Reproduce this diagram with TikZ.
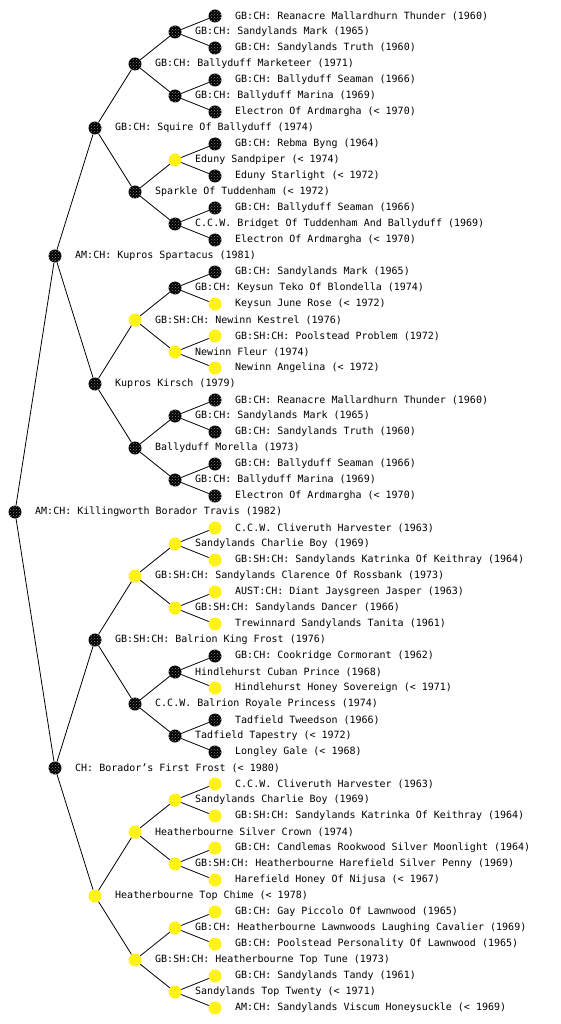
\documentclass[tikz,border=0pt]{standalone}
\usepackage{fontspec}
\setmonofont{DejaVu Sans Mono}
\usetikzlibrary{patterns,backgrounds}
\tikzset{
  pk/.style={circle, minimum size=13pt, inner sep=0pt, preaction={fill=black}, pattern=crosshatch dots, pattern color=black!45!white},
  py/.style={circle, minimum size=13pt, inner sep=0pt, preaction={fill=yellow}, pattern=crosshatch dots, pattern color=yellow!50!white},
  lbl/.style={anchor=west, inner sep=0pt, font=\ttfamily\fontsize{10}{12}\selectfont},
  link/.style={line width=0.8pt, draw=black}
}
\begin{document}
\begin{tikzpicture}[x=1pt,y=-1pt]
\useasboundingbox (0,0) rectangle (560,1024);
\foreach \r/\d/\s/\t in {
 0/5/pk/GB:CH: Reanacre Mallardhurn Thunder (1960),
 1/4/pk/GB:CH: Sandylands Mark (1965),
 2/5/pk/GB:CH: Sandylands Truth (1960),
 3/3/pk/GB:CH: Ballyduff Marketeer (1971),
 4/5/pk/GB:CH: Ballyduff Seaman (1966),
 5/4/pk/GB:CH: Ballyduff Marina (1969),
 6/5/pk/Electron Of Ardmargha (< 1970),
 7/2/pk/GB:CH: Squire Of Ballyduff (1974),
 8/5/pk/GB:CH: Rebma Byng (1964),
 9/4/py/Eduny Sandpiper (< 1974),
 10/5/pk/Eduny Starlight (< 1972),
 11/3/pk/Sparkle Of Tuddenham (< 1972),
 12/5/pk/GB:CH: Ballyduff Seaman (1966),
 13/4/pk/C.C.W. Bridget Of Tuddenham And Ballyduff (1969),
 14/5/pk/Electron Of Ardmargha (< 1970),
 15/1/pk/AM:CH: Kupros Spartacus (1981),
 16/5/pk/GB:CH: Sandylands Mark (1965),
 17/4/pk/GB:CH: Keysun Teko Of Blondella (1974),
 18/5/py/Keysun June Rose (< 1972),
 19/3/py/GB:SH:CH: Newinn Kestrel (1976),
 20/5/py/GB:SH:CH: Poolstead Problem (1972),
 21/4/py/Newinn Fleur (1974),
 22/5/py/Newinn Angelina (< 1972),
 23/2/pk/Kupros Kirsch (1979),
 24/5/pk/GB:CH: Reanacre Mallardhurn Thunder (1960),
 25/4/pk/GB:CH: Sandylands Mark (1965),
 26/5/pk/GB:CH: Sandylands Truth (1960),
 27/3/pk/Ballyduff Morella (1973),
 28/5/pk/GB:CH: Ballyduff Seaman (1966),
 29/4/pk/GB:CH: Ballyduff Marina (1969),
 30/5/pk/Electron Of Ardmargha (< 1970),
 31/0/pk/AM:CH: Killingworth Borador Travis (1982),
 32/5/py/C.C.W. Cliveruth Harvester (1963),
 33/4/py/Sandylands Charlie Boy (1969),
 34/5/py/GB:SH:CH: Sandylands Katrinka Of Keithray (1964),
 35/3/py/GB:SH:CH: Sandylands Clarence Of Rossbank (1973),
 36/5/py/AUST:CH: Diant Jaysgreen Jasper (1963),
 37/4/py/GB:SH:CH: Sandylands Dancer (1966),
 38/5/py/Trewinnard Sandylands Tanita (1961),
 39/2/pk/GB:SH:CH: Balrion King Frost (1976),
 40/5/pk/GB:CH: Cookridge Cormorant (1962),
 41/4/pk/Hindlehurst Cuban Prince (1968),
 42/5/py/Hindlehurst Honey Sovereign (< 1971),
 43/3/pk/C.C.W. Balrion Royale Princess (1974),
 44/5/pk/Tadfield Tweedson (1966),
 45/4/pk/Tadfield Tapestry (< 1972),
 46/5/pk/Longley Gale (< 1968),
 47/1/pk/CH: Borador’s First Frost (< 1980),
 48/5/py/C.C.W. Cliveruth Harvester (1963),
 49/4/py/Sandylands Charlie Boy (1969),
 50/5/py/GB:SH:CH: Sandylands Katrinka Of Keithray (1964),
 51/3/py/Heatherbourne Silver Crown (1974),
 52/5/py/GB:CH: Candlemas Rookwood Silver Moonlight (1964),
 53/4/py/GB:SH:CH: Heatherbourne Harefield Silver Penny (1969),
 54/5/py/Harefield Honey Of Nijusa (< 1967),
 55/2/py/Heatherbourne Top Chime (< 1978),
 56/5/py/GB:CH: Gay Piccolo Of Lawnwood (1965),
 57/4/py/GB:CH: Heatherbourne Lawnwoods Laughing Cavalier (1969),
 58/5/py/GB:CH: Poolstead Personality Of Lawnwood (1965),
 59/3/py/GB:SH:CH: Heatherbourne Top Tune (1973),
 60/5/py/GB:CH: Sandylands Tandy (1961),
 61/4/py/Sandylands Top Twenty (< 1971),
 62/5/py/AM:CH: Sandylands Viscum Honeysuckle (< 1969)
}{
  \node[\s] (n\r) at ({15+40*\d},{16+16*\r}) {};
  \node[lbl] (t\r) at ({35+40*\d},{16+16*\r}) {\t};
}
\begin{scope}[on background layer]
  \fill[white] (0,0) rectangle (560,1024);
  \foreach \p/\o in {31/16,15/8,47/8,7/4,23/4,39/4,55/4,3/2,11/2,19/2,27/2,35/2,43/2,51/2,59/2,
     1/1,5/1,9/1,13/1,17/1,21/1,25/1,29/1,33/1,37/1,41/1,45/1,49/1,53/1,57/1,61/1}{
    \pgfmathtruncatemacro\ca{\p-\o}
    \pgfmathtruncatemacro\cb{\p+\o}
    \draw[link] (n\p) -- (n\ca);
    \draw[link] (n\p) -- (n\cb);
  }
\end{scope}
\end{tikzpicture}
\end{document}
